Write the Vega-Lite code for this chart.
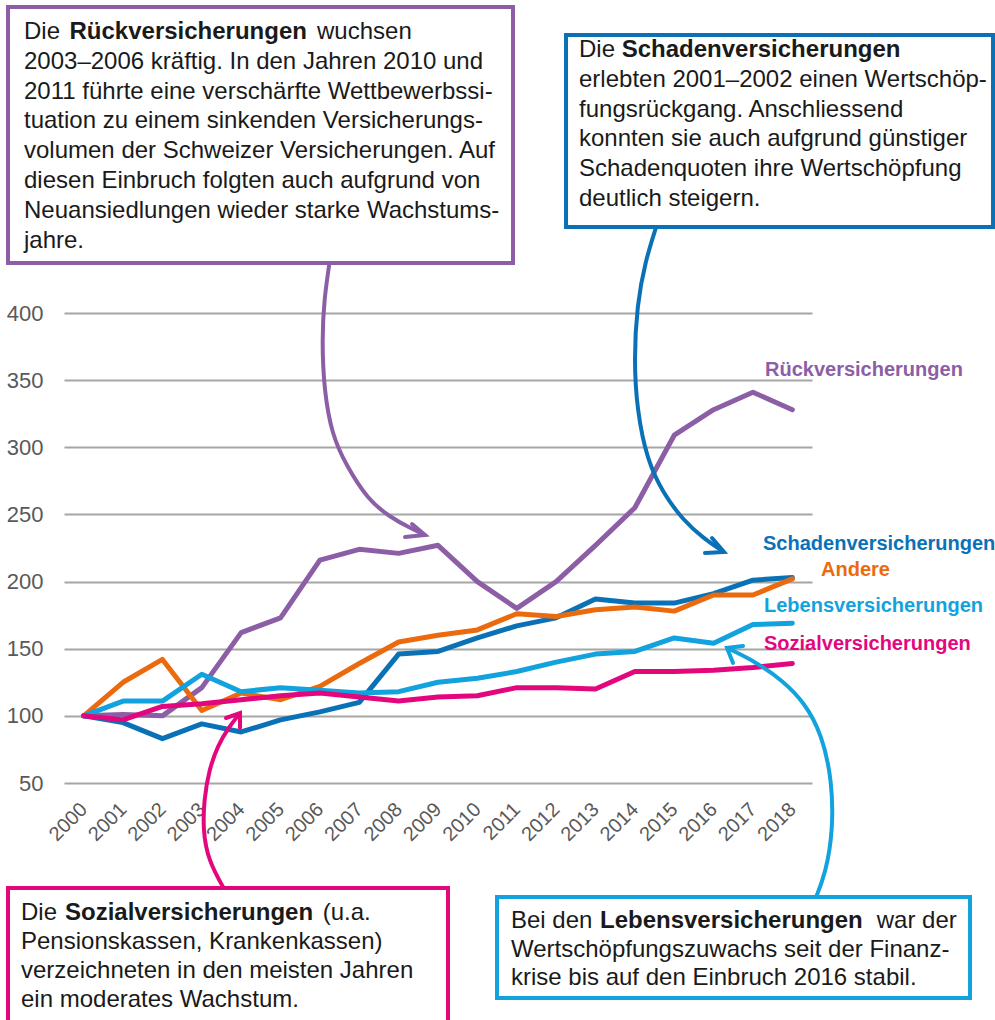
{
  "$schema": "https://vega.github.io/schema/vega-lite/v6.json",
  "width": 748,
  "height": 470,
  "autosize": {"type": "none"},
  "padding": {"left": 64, "top": 313, "right": 183, "bottom": 237},
  "background": "white",
  "config": {
    "view": {"stroke": null},
    "font": "Liberation Sans",
    "text": {"font": "Liberation Sans", "fontSize": 24, "align": "left", "baseline": "alphabetic", "fill": "#1a1a1a"}
  },
  "datasets": {
    "lines": [
      {"series": "Rückversicherungen", "year": 2000, "value": 100},
      {"series": "Rückversicherungen", "year": 2001, "value": 101},
      {"series": "Rückversicherungen", "year": 2002, "value": 100},
      {"series": "Rückversicherungen", "year": 2003, "value": 121},
      {"series": "Rückversicherungen", "year": 2004, "value": 162},
      {"series": "Rückversicherungen", "year": 2005, "value": 173},
      {"series": "Rückversicherungen", "year": 2006, "value": 216},
      {"series": "Rückversicherungen", "year": 2007, "value": 224},
      {"series": "Rückversicherungen", "year": 2008, "value": 221},
      {"series": "Rückversicherungen", "year": 2009, "value": 227},
      {"series": "Rückversicherungen", "year": 2010, "value": 200},
      {"series": "Rückversicherungen", "year": 2011, "value": 180},
      {"series": "Rückversicherungen", "year": 2012, "value": 200},
      {"series": "Rückversicherungen", "year": 2013, "value": 227},
      {"series": "Rückversicherungen", "year": 2014, "value": 255},
      {"series": "Rückversicherungen", "year": 2015, "value": 309},
      {"series": "Rückversicherungen", "year": 2016, "value": 328},
      {"series": "Rückversicherungen", "year": 2017, "value": 341},
      {"series": "Rückversicherungen", "year": 2018, "value": 328},
      {"series": "Schadenversicherungen", "year": 2000, "value": 100},
      {"series": "Schadenversicherungen", "year": 2001, "value": 95},
      {"series": "Schadenversicherungen", "year": 2002, "value": 83},
      {"series": "Schadenversicherungen", "year": 2003, "value": 94},
      {"series": "Schadenversicherungen", "year": 2004, "value": 88},
      {"series": "Schadenversicherungen", "year": 2005, "value": 97},
      {"series": "Schadenversicherungen", "year": 2006, "value": 103},
      {"series": "Schadenversicherungen", "year": 2007, "value": 110},
      {"series": "Schadenversicherungen", "year": 2008, "value": 146},
      {"series": "Schadenversicherungen", "year": 2009, "value": 148},
      {"series": "Schadenversicherungen", "year": 2010, "value": 158},
      {"series": "Schadenversicherungen", "year": 2011, "value": 167},
      {"series": "Schadenversicherungen", "year": 2012, "value": 173},
      {"series": "Schadenversicherungen", "year": 2013, "value": 187},
      {"series": "Schadenversicherungen", "year": 2014, "value": 184},
      {"series": "Schadenversicherungen", "year": 2015, "value": 184},
      {"series": "Schadenversicherungen", "year": 2016, "value": 191},
      {"series": "Schadenversicherungen", "year": 2017, "value": 201},
      {"series": "Schadenversicherungen", "year": 2018, "value": 203},
      {"series": "Andere", "year": 2000, "value": 100},
      {"series": "Andere", "year": 2001, "value": 125},
      {"series": "Andere", "year": 2002, "value": 142},
      {"series": "Andere", "year": 2003, "value": 104},
      {"series": "Andere", "year": 2004, "value": 117},
      {"series": "Andere", "year": 2005, "value": 112},
      {"series": "Andere", "year": 2006, "value": 122},
      {"series": "Andere", "year": 2007, "value": 139},
      {"series": "Andere", "year": 2008, "value": 155},
      {"series": "Andere", "year": 2009, "value": 160},
      {"series": "Andere", "year": 2010, "value": 164},
      {"series": "Andere", "year": 2011, "value": 176},
      {"series": "Andere", "year": 2012, "value": 174},
      {"series": "Andere", "year": 2013, "value": 179},
      {"series": "Andere", "year": 2014, "value": 181},
      {"series": "Andere", "year": 2015, "value": 178},
      {"series": "Andere", "year": 2016, "value": 190},
      {"series": "Andere", "year": 2017, "value": 190},
      {"series": "Andere", "year": 2018, "value": 202},
      {"series": "Lebensversicherungen", "year": 2000, "value": 100},
      {"series": "Lebensversicherungen", "year": 2001, "value": 111},
      {"series": "Lebensversicherungen", "year": 2002, "value": 111},
      {"series": "Lebensversicherungen", "year": 2003, "value": 131},
      {"series": "Lebensversicherungen", "year": 2004, "value": 118},
      {"series": "Lebensversicherungen", "year": 2005, "value": 121},
      {"series": "Lebensversicherungen", "year": 2006, "value": 119},
      {"series": "Lebensversicherungen", "year": 2007, "value": 117},
      {"series": "Lebensversicherungen", "year": 2008, "value": 118},
      {"series": "Lebensversicherungen", "year": 2009, "value": 125},
      {"series": "Lebensversicherungen", "year": 2010, "value": 128},
      {"series": "Lebensversicherungen", "year": 2011, "value": 133},
      {"series": "Lebensversicherungen", "year": 2012, "value": 140},
      {"series": "Lebensversicherungen", "year": 2013, "value": 146},
      {"series": "Lebensversicherungen", "year": 2014, "value": 148},
      {"series": "Lebensversicherungen", "year": 2015, "value": 158},
      {"series": "Lebensversicherungen", "year": 2016, "value": 154},
      {"series": "Lebensversicherungen", "year": 2017, "value": 168},
      {"series": "Lebensversicherungen", "year": 2018, "value": 169},
      {"series": "Sozialversicherungen", "year": 2000, "value": 100},
      {"series": "Sozialversicherungen", "year": 2001, "value": 97},
      {"series": "Sozialversicherungen", "year": 2002, "value": 107},
      {"series": "Sozialversicherungen", "year": 2003, "value": 109},
      {"series": "Sozialversicherungen", "year": 2004, "value": 112},
      {"series": "Sozialversicherungen", "year": 2005, "value": 115},
      {"series": "Sozialversicherungen", "year": 2006, "value": 117},
      {"series": "Sozialversicherungen", "year": 2007, "value": 114},
      {"series": "Sozialversicherungen", "year": 2008, "value": 111},
      {"series": "Sozialversicherungen", "year": 2009, "value": 114},
      {"series": "Sozialversicherungen", "year": 2010, "value": 115},
      {"series": "Sozialversicherungen", "year": 2011, "value": 121},
      {"series": "Sozialversicherungen", "year": 2012, "value": 121},
      {"series": "Sozialversicherungen", "year": 2013, "value": 120},
      {"series": "Sozialversicherungen", "year": 2014, "value": 133},
      {"series": "Sozialversicherungen", "year": 2015, "value": 133},
      {"series": "Sozialversicherungen", "year": 2016, "value": 134},
      {"series": "Sozialversicherungen", "year": 2017, "value": 136},
      {"series": "Sozialversicherungen", "year": 2018, "value": 139}
    ],
    "arrows": [
      {"series": "Rückversicherungen", "part": "shaft", "i": 0, "year": 2006.257, "value": 440},
      {"series": "Rückversicherungen", "part": "shaft", "i": 1, "year": 2006.104, "value": 409.68},
      {"series": "Rückversicherungen", "part": "shaft", "i": 2, "year": 2006.054, "value": 379.89},
      {"series": "Rückversicherungen", "part": "shaft", "i": 3, "year": 2006.104, "value": 342.66},
      {"series": "Rückversicherungen", "part": "shaft", "i": 4, "year": 2006.308, "value": 309.15},
      {"series": "Rückversicherungen", "part": "shaft", "i": 5, "year": 2006.663, "value": 286.81},
      {"series": "Rückversicherungen", "part": "shaft", "i": 6, "year": 2007.222, "value": 260.74},
      {"series": "Rückversicherungen", "part": "shaft", "i": 7, "year": 2007.781, "value": 248.09},
      {"series": "Rückversicherungen", "part": "shaft", "i": 8, "year": 2008.289, "value": 239.89},
      {"series": "Rückversicherungen", "part": "shaft", "i": 9, "year": 2008.670, "value": 234.68},
      {"series": "Rückversicherungen", "part": "head", "i": 0, "year": 2008.162, "value": 233.19},
      {"series": "Rückversicherungen", "part": "head", "i": 1, "year": 2008.670, "value": 234.68},
      {"series": "Rückversicherungen", "part": "head", "i": 2, "year": 2008.340, "value": 242.87},
      {"series": "Schadenversicherungen", "part": "shaft", "i": 0, "year": 2014.563, "value": 466},
      {"series": "Schadenversicherungen", "part": "shaft", "i": 1, "year": 2014.258, "value": 437.98},
      {"series": "Schadenversicherungen", "part": "shaft", "i": 2, "year": 2014.055, "value": 405.96},
      {"series": "Schadenversicherungen", "part": "shaft", "i": 3, "year": 2013.979, "value": 365.0},
      {"series": "Schadenversicherungen", "part": "shaft", "i": 4, "year": 2014.055, "value": 327.77},
      {"series": "Schadenversicherungen", "part": "shaft", "i": 5, "year": 2014.309, "value": 290.53},
      {"series": "Schadenversicherungen", "part": "shaft", "i": 6, "year": 2014.715, "value": 265.96},
      {"series": "Schadenversicherungen", "part": "shaft", "i": 7, "year": 2015.223, "value": 245.85},
      {"series": "Schadenversicherungen", "part": "shaft", "i": 8, "year": 2015.732, "value": 232.45},
      {"series": "Schadenversicherungen", "part": "shaft", "i": 9, "year": 2016.265, "value": 222.02},
      {"series": "Schadenversicherungen", "part": "head", "i": 0, "year": 2015.782, "value": 221.28},
      {"series": "Schadenversicherungen", "part": "head", "i": 1, "year": 2016.265, "value": 222.02},
      {"series": "Schadenversicherungen", "part": "head", "i": 2, "year": 2015.960, "value": 232.45},
      {"series": "Sozialversicherungen", "part": "shaft", "i": 0, "year": 2003.590, "value": -30},
      {"series": "Sozialversicherungen", "part": "shaft", "i": 1, "year": 2003.158, "value": -7.34},
      {"series": "Sozialversicherungen", "part": "shaft", "i": 2, "year": 2003.031, "value": 14.99},
      {"series": "Sozialversicherungen", "part": "shaft", "i": 3, "year": 2003.056, "value": 37.34},
      {"series": "Sozialversicherungen", "part": "shaft", "i": 4, "year": 2003.183, "value": 59.68},
      {"series": "Sozialversicherungen", "part": "shaft", "i": 5, "year": 2003.412, "value": 78.30},
      {"series": "Sozialversicherungen", "part": "shaft", "i": 6, "year": 2003.691, "value": 91.70},
      {"series": "Sozialversicherungen", "part": "shaft", "i": 7, "year": 2003.971, "value": 102.13},
      {"series": "Sozialversicherungen", "part": "head", "i": 0, "year": 2003.615, "value": 98.40},
      {"series": "Sozialversicherungen", "part": "head", "i": 1, "year": 2003.971, "value": 102.13},
      {"series": "Sozialversicherungen", "part": "head", "i": 2, "year": 2003.971, "value": 90.96},
      {"series": "Lebensversicherungen", "part": "shaft", "i": 0, "year": 2018.577, "value": -37},
      {"series": "Lebensversicherungen", "part": "shaft", "i": 1, "year": 2018.856, "value": -16.28},
      {"series": "Lebensversicherungen", "part": "shaft", "i": 2, "year": 2019.034, "value": 14.99},
      {"series": "Lebensversicherungen", "part": "shaft", "i": 3, "year": 2019.008, "value": 52.23},
      {"series": "Lebensversicherungen", "part": "shaft", "i": 4, "year": 2018.754, "value": 85.74},
      {"series": "Lebensversicherungen", "part": "shaft", "i": 5, "year": 2018.322, "value": 109.57},
      {"series": "Lebensversicherungen", "part": "shaft", "i": 6, "year": 2017.738, "value": 126.70},
      {"series": "Lebensversicherungen", "part": "shaft", "i": 7, "year": 2017.103, "value": 139.36},
      {"series": "Lebensversicherungen", "part": "shaft", "i": 8, "year": 2016.671, "value": 146.06},
      {"series": "Lebensversicherungen", "part": "shaft", "i": 9, "year": 2016.341, "value": 150.53},
      {"series": "Lebensversicherungen", "part": "head", "i": 0, "year": 2016.494, "value": 139.36},
      {"series": "Lebensversicherungen", "part": "head", "i": 1, "year": 2016.341, "value": 150.53},
      {"series": "Lebensversicherungen", "part": "head", "i": 2, "year": 2016.748, "value": 152.02}
    ]
  },
  "layer": [
    {
      "data": {"name": "lines"},
      "mark": {"type": "line", "strokeWidth": 5, "strokeCap": "round", "strokeJoin": "round"},
      "encoding": {
        "x": {
          "field": "year", "type": "quantitative",
          "scale": {"domain": [1999.5, 2018.5], "nice": false, "zero": false},
          "axis": {
            "values": [2000, 2001, 2002, 2003, 2004, 2005, 2006, 2007, 2008, 2009, 2010, 2011, 2012, 2013, 2014, 2015, 2016, 2017, 2018],
            "format": "d", "labelAngle": -45, "labelAlign": "right", "labelBaseline": "middle",
            "labelPadding": 23, "labelFontSize": 20, "labelColor": "#595959", "labelFont": "Liberation Sans",
            "domain": false, "ticks": false, "grid": false, "title": null, "labelOverlap": false, "labelFlush": false
          }
        },
        "y": {
          "field": "value", "type": "quantitative",
          "scale": {"domain": [50, 400], "nice": false, "zero": false},
          "axis": {
            "values": [50, 100, 150, 200, 250, 300, 350, 400],
            "labelFontSize": 22, "labelColor": "#595959", "labelFont": "Liberation Sans", "labelPadding": 21,
            "domain": false, "ticks": false, "grid": true, "gridColor": "#a6a6a6", "gridWidth": 2,
            "title": null, "labelFlush": false
          }
        },
        "color": {
          "field": "series", "type": "nominal", "legend": null,
          "scale": {
            "domain": ["Rückversicherungen", "Schadenversicherungen", "Andere", "Lebensversicherungen", "Sozialversicherungen"],
            "range": ["#8c5ea6", "#0a71b6", "#ec6a0e", "#12a3de", "#e3077e"]
          }
        }
      }
    },
    {
      "data": {"name": "arrows"},
      "transform": [{"filter": "datum.part === 'shaft'"}],
      "mark": {"type": "line", "strokeWidth": 4, "interpolate": "basis", "strokeCap": "butt"},
      "encoding": {
        "x": {"field": "year", "type": "quantitative"},
        "y": {"field": "value", "type": "quantitative"},
        "color": {"field": "series", "type": "nominal", "legend": null},
        "order": {"field": "i", "type": "quantitative"}
      }
    },
    {
      "data": {"name": "arrows"},
      "transform": [{"filter": "datum.part === 'head'"}],
      "mark": {"type": "line", "strokeWidth": 4, "strokeCap": "round", "strokeJoin": "miter"},
      "encoding": {
        "x": {"field": "year", "type": "quantitative"},
        "y": {"field": "value", "type": "quantitative"},
        "color": {"field": "series", "type": "nominal", "legend": null},
        "order": {"field": "i", "type": "quantitative"}
      }
    },
    {
      "data": {"values": [{}]},
      "mark": {"type": "rect", "fill": "white", "stroke": "#8c5ea6", "strokeWidth": 4},
      "encoding": {
        "x": {"datum": 1998.078, "type": "quantitative"}, "x2": {"datum": 2010.905},
        "y": {"datum": 627.87, "type": "quantitative"}, "y2": {"datum": 437.23}
      }
    },
    {
      "data": {"values": [{}]},
      "mark": {"type": "rect", "fill": "white", "stroke": "#0a71b6", "strokeWidth": 4},
      "encoding": {
        "x": {"datum": 2012.252, "type": "quantitative"}, "x2": {"datum": 2023.098},
        "y": {"datum": 607.02, "type": "quantitative"}, "y2": {"datum": 464.04}
      }
    },
    {
      "data": {"values": [{}]},
      "mark": {"type": "rect", "fill": "white", "stroke": "#e3077e", "strokeWidth": 4},
      "encoding": {
        "x": {"datum": 1998.078, "type": "quantitative"}, "x2": {"datum": 2009.254},
        "y": {"datum": -28.19, "type": "quantitative"}, "y2": {"datum": -130.21}
      }
    },
    {
      "data": {"values": [{}]},
      "mark": {"type": "rect", "fill": "white", "stroke": "#12a3de", "strokeWidth": 4},
      "encoding": {
        "x": {"datum": 2010.499, "type": "quantitative"}, "x2": {"datum": 2022.514},
        "y": {"datum": -34.89, "type": "quantitative"}, "y2": {"datum": -110.11}
      }
    },
    {
      "data": {"values": [{}]},
      "mark": {"type": "text", "text": "Die"},
      "encoding": {"x": {"datum": 1998.484, "type": "quantitative"}, "y": {"datum": 603.82, "type": "quantitative"}}
    },
    {
      "data": {"values": [{}]},
      "mark": {"type": "text", "text": "Rückversicherungen", "fontWeight": "bold"},
      "encoding": {"x": {"datum": 1999.64, "type": "quantitative"}, "y": {"datum": 603.82, "type": "quantitative"}}
    },
    {
      "data": {"values": [{}]},
      "mark": {"type": "text", "text": "wuchsen"},
      "encoding": {"x": {"datum": 2005.927, "type": "quantitative"}, "y": {"datum": 603.82, "type": "quantitative"}}
    },
    {
      "data": {"values": [{}]},
      "mark": {
        "type": "text", "lineHeight": 29.8,
        "text": [
          "2003–2006 kräftig. In den Jahren 2010 und",
          "2011 führte eine verschärfte Wettbewerbssi-",
          "tuation zu einem sinkenden Versicherungs-",
          "volumen der Schweizer Versicherungen. Auf",
          "diesen Einbruch folgten auch aufgrund von",
          "Neuansiedlungen wieder starke Wachstums-",
          "jahre."
        ]
      },
      "encoding": {"x": {"datum": 1998.484, "type": "quantitative"}, "y": {"datum": 581.78, "type": "quantitative"}}
    },
    {
      "data": {"values": [{}]},
      "mark": {"type": "text", "text": "Die"},
      "encoding": {"x": {"datum": 2012.582, "type": "quantitative"}, "y": {"datum": 590.64, "type": "quantitative"}}
    },
    {
      "data": {"values": [{}]},
      "mark": {"type": "text", "text": "Schadenversicherungen", "fontWeight": "bold"},
      "encoding": {"x": {"datum": 2013.666, "type": "quantitative"}, "y": {"datum": 590.64, "type": "quantitative"}}
    },
    {
      "data": {"values": [{}]},
      "mark": {
        "type": "text", "lineHeight": 29.8,
        "text": [
          "erlebten 2001–2002 einen Wertschöp-",
          "fungsrückgang. Anschliessend",
          "konnten sie auch aufgrund günstiger",
          "Schadenquoten ihre Wertschöpfung",
          "deutlich steigern."
        ]
      },
      "encoding": {"x": {"datum": 2012.582, "type": "quantitative"}, "y": {"datum": 568.45, "type": "quantitative"}}
    },
    {
      "data": {"values": [{}]},
      "mark": {"type": "text", "text": "Die"},
      "encoding": {"x": {"datum": 1998.408, "type": "quantitative"}, "y": {"datum": -52.02, "type": "quantitative"}}
    },
    {
      "data": {"values": [{}]},
      "mark": {"type": "text", "text": "Sozialversicherungen", "fontWeight": "bold"},
      "encoding": {"x": {"datum": 1999.525, "type": "quantitative"}, "y": {"datum": -52.02, "type": "quantitative"}}
    },
    {
      "data": {"values": [{}]},
      "mark": {"type": "text", "text": "(u.a."},
      "encoding": {"x": {"datum": 2006.071, "type": "quantitative"}, "y": {"datum": -52.02, "type": "quantitative"}}
    },
    {
      "data": {"values": [{}]},
      "mark": {
        "type": "text", "lineHeight": 29,
        "text": [
          "Pensionskassen, Krankenkassen)",
          "verzeichneten in den meisten Jahren",
          "ein moderates Wachstum."
        ]
      },
      "encoding": {"x": {"datum": 1998.408, "type": "quantitative"}, "y": {"datum": -73.62, "type": "quantitative"}}
    },
    {
      "data": {"values": [{}]},
      "mark": {"type": "text", "text": "Bei den"},
      "encoding": {"x": {"datum": 2010.854, "type": "quantitative"}, "y": {"datum": -58.2, "type": "quantitative"}}
    },
    {
      "data": {"values": [{}]},
      "mark": {"type": "text", "text": "Lebensversicherungen", "fontWeight": "bold"},
      "encoding": {"x": {"datum": 2013.115, "type": "quantitative"}, "y": {"datum": -58.2, "type": "quantitative"}}
    },
    {
      "data": {"values": [{}]},
      "mark": {"type": "text", "text": "war der"},
      "encoding": {"x": {"datum": 2020.144, "type": "quantitative"}, "y": {"datum": -58.2, "type": "quantitative"}}
    },
    {
      "data": {"values": [{}]},
      "mark": {
        "type": "text", "lineHeight": 28.5,
        "text": [
          "Wertschöpfungszuwachs seit der Finanz-",
          "krise bis auf den Einbruch 2016 stabil."
        ]
      },
      "encoding": {"x": {"datum": 2010.854, "type": "quantitative"}, "y": {"datum": -79.5, "type": "quantitative"}}
    },
    {
      "data": {"values": [{}]},
      "mark": {"type": "text", "text": "Rückversicherungen", "fontWeight": "bold", "fontSize": 20, "baseline": "middle", "fill": "#8c5ea6"},
      "encoding": {"x": {"datum": 2017.306, "type": "quantitative"}, "y": {"datum": 357.55, "type": "quantitative"}}
    },
    {
      "data": {"values": [{}]},
      "mark": {"type": "text", "text": "Schadenversicherungen", "fontWeight": "bold", "fontSize": 20, "baseline": "middle", "fill": "#0a71b6"},
      "encoding": {"x": {"datum": 2017.256, "type": "quantitative"}, "y": {"datum": 227.98, "type": "quantitative"}}
    },
    {
      "data": {"values": [{}]},
      "mark": {"type": "text", "text": "Andere", "fontWeight": "bold", "fontSize": 20, "baseline": "middle", "fill": "#ec6a0e"},
      "encoding": {"x": {"datum": 2018.729, "type": "quantitative"}, "y": {"datum": 208.62, "type": "quantitative"}}
    },
    {
      "data": {"values": [{}]},
      "mark": {"type": "text", "text": "Lebensversicherungen", "fontWeight": "bold", "fontSize": 20, "baseline": "middle", "fill": "#12a3de"},
      "encoding": {"x": {"datum": 2017.281, "type": "quantitative"}, "y": {"datum": 181.81, "type": "quantitative"}}
    },
    {
      "data": {"values": [{}]},
      "mark": {"type": "text", "text": "Sozialversicherungen", "fontWeight": "bold", "fontSize": 20, "baseline": "middle", "fill": "#e3077e"},
      "encoding": {"x": {"datum": 2017.281, "type": "quantitative"}, "y": {"datum": 153.51, "type": "quantitative"}}
    }
  ]
}
